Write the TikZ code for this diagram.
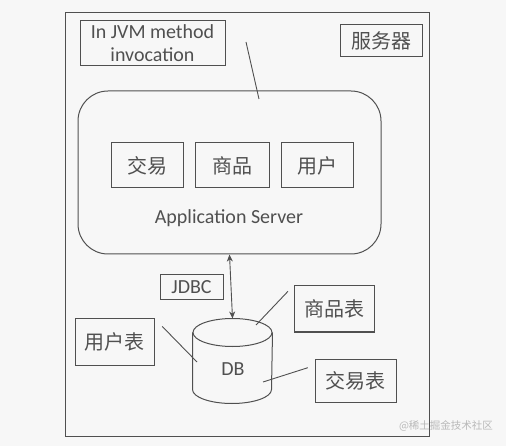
\documentclass[tikz,border=0pt]{standalone}
\usepackage{fontspec}
\setmainfont{Carlito}
\newfontfamily\cjk{Noto Sans CJK SC}
\usetikzlibrary{arrows.meta}
\definecolor{paper}{RGB}{247,247,247}
\definecolor{ink}{RGB}{80,80,80}

\begin{document}
\begin{tikzpicture}
[x=1pt,y=-1pt,>={Stealth[length=7pt,width=6pt,inset=2pt]},
  box/.style={rectangle,draw=ink,line width=1pt,inner sep=0pt,text=ink,font=\fontsize{20}{23}\selectfont},
  cjk box/.style={box,font=\cjk\fontsize{20}{24}\selectfont},
  link/.style={draw=ink,line width=0.9pt}]
  \fill[paper] (0,0) rectangle (506,446);
  % server frame
  \node[box,minimum width=364,minimum height=423] (srv) at (247,224.5) {};
  \node[box,align=center,minimum width=145,minimum height=45] (jvm) at (152.5,43.5) {In JVM method\\invocation};
  \node[cjk box,minimum width=82,minimum height=32] (fwq) at (381,41) {服务器};
  % application server
  \node[box,rounded corners=30,minimum width=303,minimum height=163] (app) at (229.5,172.5) {};
  \node[cjk box,minimum width=72,minimum height=45] (jy) at (147,165.5) {交易};
  \node[cjk box,minimum width=74,minimum height=45] (sp) at (232,165.5) {商品};
  \node[cjk box,minimum width=72,minimum height=45] (yh) at (317,165.5) {用户};
  \node[box,draw=none] (app label) at (229,218) {Application Server};
  % database
  \node[box,minimum width=63,minimum height=25] (jdbc) at (191.5,287.5) {JDBC};
  \node[box,draw=none,minimum width=79,minimum height=84] (db) at (232.5,361) {};
  \draw[ink,line width=1pt] ([yshift=-14pt]db.north west) -- ([yshift=14pt]db.south west)
    arc[start angle=180,end angle=360,x radius=39.5pt,y radius=14pt] -- ([yshift=-14pt]db.north east);
  \draw[ink,line width=1pt] ([yshift=-14pt]db.north) ellipse[x radius=39.5pt,y radius=14pt];
  \node[box,draw=none] (db label) at (233,369) {DB};
  \node[cjk box,minimum width=80,minimum height=46] (spb) at (334,309) {商品表};
  \node[cjk box,minimum width=79,minimum height=46] (yhb) at (114.5,342) {用户表};
  \node[cjk box,minimum width=81,minimum height=43] (jyb) at (355.5,380.5) {交易表};
  \node[text=gray!55,font=\cjk\fontsize{10.5}{12}\selectfont] (mark) at (446,426) {@稀土掘金技术社区};
  \coordinate (jvm a) at (246,42);
  \coordinate (jvm b) at (259,99);
  \coordinate (db sp) at (256,325);
  \coordinate (db yh) at (197,362);
  \coordinate (db jy) at (263,382);
  \draw[link] (jvm a) -- (jvm b);
  \draw[link,<->] (app.south) -- (db.north);
  \draw[link,shorten <=8pt] (spb.north west) -- (db sp);
  \draw[link,shorten <=11pt] (yhb.north east) -- (db yh);
  \draw[link,shorten <=7pt] (jyb.160) -- (db jy);
\end{tikzpicture}
\end{document}
